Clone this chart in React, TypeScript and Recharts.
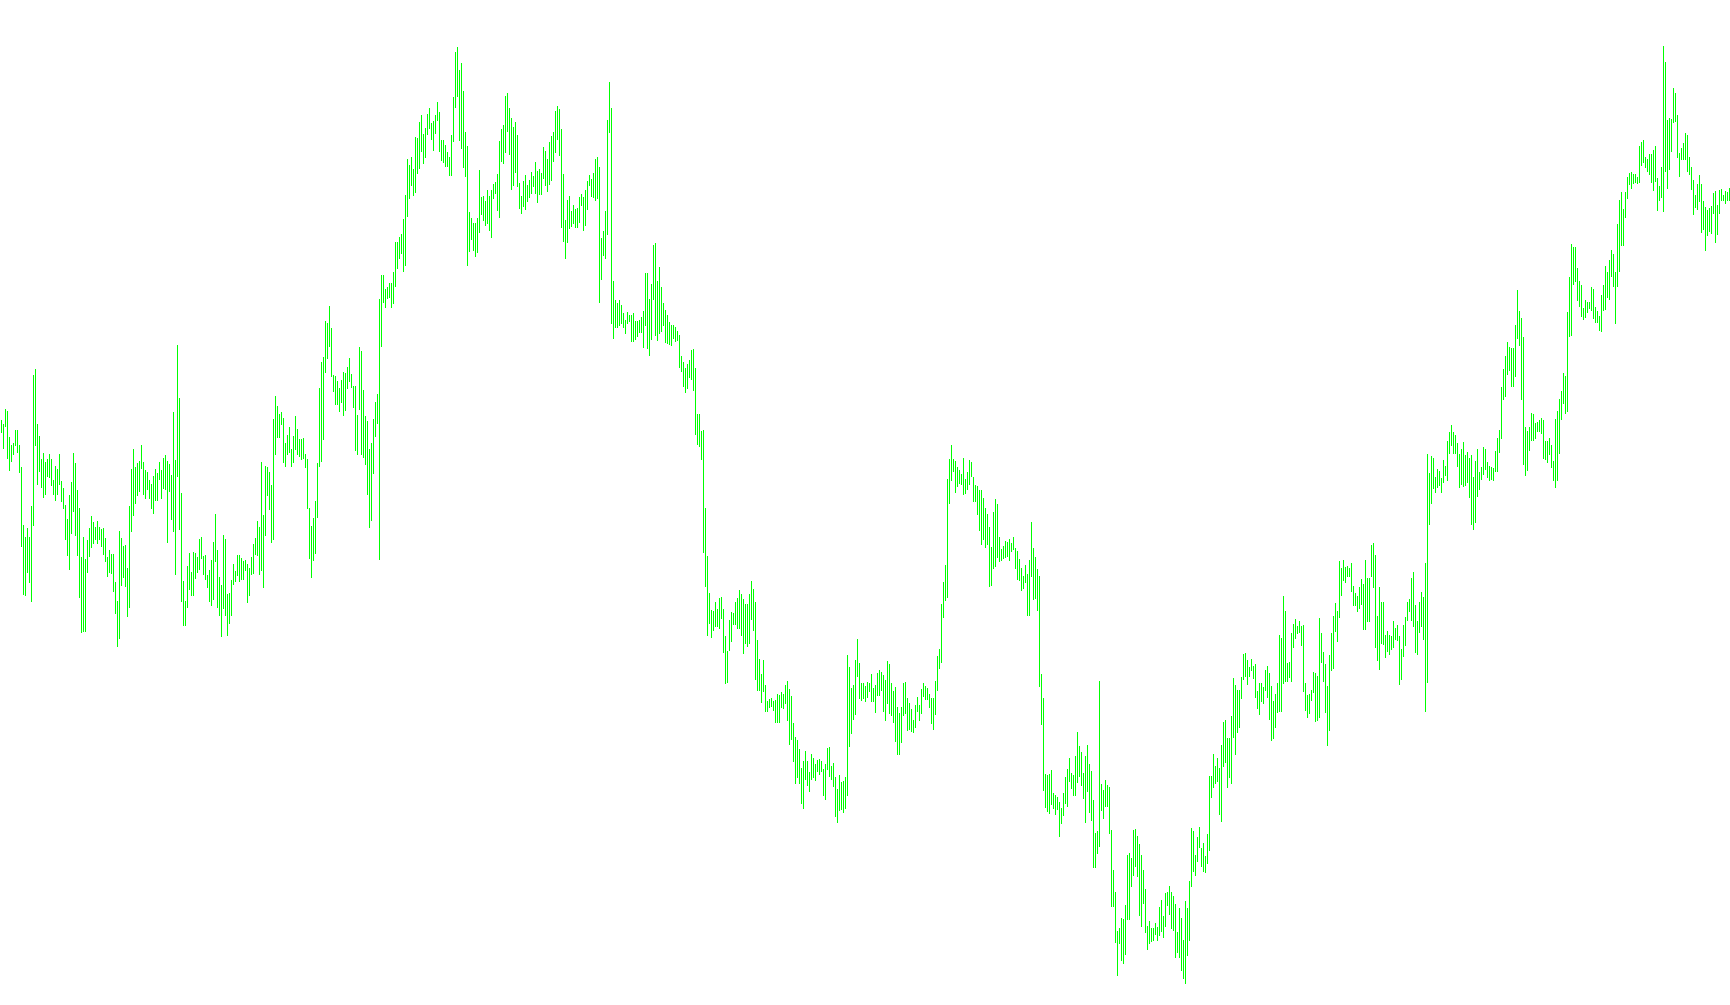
import { BarChart, Bar, XAxis, YAxis } from "recharts";

// bar highs / lows, left to right
const highs = [
  580, 576, 591, 589, 563, 555, 557, 570, 570, 555, 533, 475, 463, 472, 463, 494, 625, 631, 576, 564,
  541, 547, 538, 541, 546, 541, 520, 534, 531, 546, 519, 512, 495, 481, 505, 518, 547, 537, 510, 492,
  443, 463, 441, 460, 472, 484, 478, 473, 479, 473, 471, 472, 462, 443, 450, 446, 446, 418, 399, 469,
  462, 454, 455, 432, 494, 531, 551, 533, 537, 539, 555, 538, 530, 528, 520, 516, 524, 531, 527, 538,
  530, 542, 545, 539, 536, 525, 588, 540, 655, 602, 507, 419, 399, 434, 447, 428, 448, 447, 443, 461,
  463, 444, 445, 425, 430, 440, 458, 486, 450, 423, 415, 465, 461, 406, 407, 420, 436, 429, 445, 445,
  442, 439, 440, 436, 432, 443, 456, 462, 479, 473, 538, 485, 534, 533, 528, 515, 581, 604, 594, 586,
  588, 582, 557, 565, 573, 551, 564, 584, 571, 561, 561, 562, 546, 541, 492, 474, 482, 499, 537, 612,
  638, 643, 679, 677, 694, 672, 625, 624, 619, 612, 620, 628, 627, 633, 642, 626, 614, 614, 585, 653,
  649, 610, 584, 579, 551, 557, 581, 598, 606, 701,
  725, 725, 711, 713, 717, 717, 728, 758, 758, 763, 766, 781, 805, 841, 835, 843, 831, 863, 862, 878,
  885, 866, 872, 886, 892, 877, 879, 885, 898, 888, 860, 860, 855, 848, 843, 865, 903, 948, 953, 930,
  937, 909, 868, 854, 788, 782, 777, 777, 782, 830, 803, 804, 799, 810, 804, 810, 816, 818, 826, 859,
  871, 875, 904, 907, 892, 882, 873, 878, 865, 817, 804, 819, 825, 815, 820, 828, 824, 838, 829, 831,
  827, 853, 849, 841, 858, 864, 868, 889, 894, 891, 871, 826, 780, 800, 804, 789, 795, 791, 792, 803,
  806, 803, 810, 819, 825, 821, 827, 841, 843, 833, 762, 769, 789, 880, 918, 892, 719, 700, 697, 700,
  695, 687, 680, 688, 685, 685, 687, 679, 679, 680, 683, 689, 727, 727, 701, 716, 755, 757, 719, 733,
  713, 697, 690, 685, 678, 675, 675, 673, 669, 665, 644, 638, 632, 636, 640, 650, 651, 632, 586, 586,
  569, 570, 492, 444, 407, 390, 389, 398, 391, 402, 403, 391, 364, 349, 380, 388, 387, 398, 402, 410,
  406, 401, 396, 396, 406, 419, 411, 398, 360, 341,
  326, 340, 315, 299, 301, 302, 299, 300, 306, 305, 308, 306, 315, 319, 311, 304, 277, 263, 260, 251,
  232, 239, 249, 239, 228, 246, 242, 236, 240, 241, 239, 231, 236, 252, 253, 234, 237, 223, 211, 225,
  218, 219, 223, 345, 333, 312, 315, 340, 361, 337, 317, 317, 314, 318, 317, 326, 312, 315, 327, 330,
  328, 325, 320, 339, 336, 317, 309, 313, 293, 287, 293, 317, 318, 302, 297, 291, 280, 295, 303, 295,
  311, 317, 314, 312, 306, 302, 302, 319, 344, 351, 396, 418, 435, 521, 541, 555, 541, 539, 533, 530,
  526, 542, 521, 528, 540, 538, 523, 515, 514, 510, 510, 502, 492, 486, 473, 453, 488, 501, 496, 463,
  451, 454, 459, 458, 461, 457, 463, 452, 449, 441, 432, 424, 435, 426, 440, 478, 452, 443, 431, 424,
  326, 302, 226, 225, 226, 230, 207, 205, 203, 198, 192, 207, 223, 231, 242, 227, 225, 244, 268, 254,
  248, 227, 244, 255, 236, 229, 200, 167, 169, 319, 216, 210, 220, 215, 213, 170, 130, 108, 69, 72,
  82, 81, 95, 145, 147, 142, 170, 171, 164, 156, 145, 130, 111, 74, 79,
  72, 72, 77, 73, 93, 100, 84, 107, 108, 114, 108, 104, 96, 68, 92, 82, 60, 99, 92, 119,
  172, 169, 145, 163, 173, 152, 157, 144, 166, 224, 224, 246, 234, 242, 232, 255, 278, 280, 262, 262,
  284, 322, 315, 310, 310, 323, 346, 347, 340, 333, 341, 334, 336, 309, 317, 317, 313, 330, 334, 327,
  314, 299, 306, 317, 365, 362, 404, 389, 337, 338, 367, 376, 381, 374, 379, 374, 375, 317, 305, 306,
  310, 328, 327, 324, 382, 367, 348, 336, 314, 345, 367, 384, 397, 389, 439,
  432, 440, 433, 434, 432, 437, 414, 407, 404, 413, 421, 416, 440, 422, 422, 455, 457, 445, 384, 413,
  398, 398, 365, 369, 365, 364, 379, 372, 375, 364, 351, 375, 383, 398, 401, 422, 428, 395, 379, 398,
  408, 403, 437, 546, 527, 544, 542, 523, 531, 529, 522, 540, 534, 559, 568, 575, 568, 565, 557, 546,
  551, 558, 545, 548, 542, 545, 523, 539, 551, 528, 533, 553, 551, 538, 534, 533, 532, 549, 562, 570,
  613, 631, 644, 658, 653, 652, 652, 675, 710, 689, 682, 663, 573, 569, 573,
  587, 586, 577, 578, 580, 582, 580, 559, 559, 562, 555, 539, 581, 589, 601, 609, 627, 624, 688, 723,
  756, 753, 753, 732, 719, 715, 692, 700, 698, 698, 713, 711, 693, 689, 684, 705, 715, 734, 728, 740,
  750, 746, 728, 776, 800, 808, 791, 808, 823, 827, 828, 826, 826, 823, 854, 858, 860, 843, 841, 846,
  846, 850, 854, 822, 814, 833, 954, 938, 880, 882, 881, 912, 907, 885, 847, 852, 857, 867, 865, 843,
  833, 820, 805, 816, 825, 816, 799, 793, 790, 792, 794, 807, 809, 795, 810, 811, 805, 809, 808, 812,
];

const lows = [
  567, 551, 573, 541, 529, 538, 545, 554, 547, 527, 453, 405, 404, 427, 417, 398, 474, 554, 515, 528,
  512, 502, 505, 523, 522, 514, 505, 499, 505, 515, 498, 491, 460, 444, 430, 466, 488, 464, 444, 402,
  367, 368, 368, 427, 443, 452, 456, 460, 456, 460, 453, 445, 438, 423, 427, 426, 408, 386, 353, 361,
  414, 422, 413, 383, 392, 468, 484, 496, 504, 508, 531, 505, 501, 510, 501, 491, 486, 499, 499, 520,
  501, 511, 510, 457, 508, 480, 468, 425, 523, 470, 398, 374, 374, 392, 410, 404, 404, 421, 427, 430,
  441, 425, 420, 412, 398, 394, 400, 438, 392, 384, 363, 391, 384, 364, 376, 384, 415, 418, 424, 418,
  420, 420, 429, 397, 404, 425, 426, 445, 444, 425, 429, 412, 464, 504, 490, 457, 460, 545, 562, 562,
  575, 537, 533, 545, 547, 533, 537, 550, 545, 543, 540, 541, 532, 491, 441, 422, 439, 446, 482, 533,
  538, 560, 627, 641, 653, 623, 608, 595, 595, 588, 597, 584, 589, 611, 618, 612, 592, 549, 545, 590,
  545, 542, 535, 505, 472, 479, 526, 563, 576, 440,
  653, 697, 692, 701, 702, 692, 696, 713, 731, 741, 746, 728, 734, 783, 801, 814, 804, 807, 826, 831,
  848, 836, 842, 865, 871, 860, 849, 866, 879, 848, 839, 837, 833, 833, 824, 824, 858, 892, 903, 859,
  851, 832, 823, 734, 748, 760, 749, 743, 747, 767, 785, 779, 774, 776, 769, 762, 801, 806, 789, 782,
  838, 836, 847, 868, 845, 810, 814, 827, 813, 791, 786, 793, 790, 798, 802, 806, 813, 806, 797, 805,
  805, 821, 814, 808, 815, 819, 838, 847, 860, 844, 772, 758, 741, 757, 771, 773, 776, 772, 772, 777,
  794, 769, 774, 790, 814, 803, 802, 799, 801, 697, 720, 744, 741, 765, 867, 676, 661, 672, 672, 674,
  676, 672, 666, 676, 678, 658, 658, 660, 663, 667, 667, 652, 674, 651, 644, 660, 700, 664, 659, 666,
  668, 674, 657, 656, 655, 654, 661, 658, 659, 632, 628, 613, 607, 611, 622, 620, 609, 565, 555, 553,
  540, 447, 413, 364, 376, 362, 369, 373, 373, 371, 381, 347, 316, 317, 349, 358, 375, 375, 371, 371,
  364, 346, 356, 353, 356, 380, 369, 320, 309, 309,
  297, 308, 288, 288, 292, 293, 289, 277, 277, 277, 292, 291, 296, 279, 255, 260, 238, 216, 222, 216,
  196, 191, 220, 214, 208, 220, 222, 219, 228, 225, 228, 204, 200, 230, 223, 220, 213, 183, 177, 189,
  190, 187, 191, 204, 253, 266, 280, 285, 323, 301, 299, 301, 298, 302, 308, 298, 298, 287, 304, 304,
  309, 288, 279, 296, 286, 284, 277, 258, 245, 245, 257, 284, 286, 269, 270, 268, 267, 272, 288, 279,
  286, 303, 300, 300, 292, 276, 270, 285, 309, 331, 337, 382, 399, 402, 496, 519, 528, 507, 513, 516,
  515, 505, 506, 510, 515, 523, 498, 498, 485, 469, 455, 460, 452, 455, 413, 414, 431, 433, 442, 438,
  439, 441, 442, 443, 439, 448, 450, 431, 420, 419, 409, 411, 417, 384, 384, 423, 400, 401, 389, 313,
  275, 209, 192, 188, 186, 195, 191, 185, 190, 163, 176, 184, 196, 193, 218, 211, 204, 204, 217, 223,
  214, 201, 177, 208, 187, 179, 132, 132, 146, 153, 189, 181, 193, 193, 166, 93, 93, 57, 24, 56,
  39, 36, 45, 80, 80, 113, 124, 133, 123, 84, 73, 96, 67, 50, 56,
  58, 59, 65, 59, 64, 68, 62, 73, 94, 85, 71, 69, 42, 47, 42, 29, 21, 16, 44, 59,
  113, 128, 124, 138, 152, 133, 128, 127, 136, 149, 202, 212, 216, 218, 185, 178, 233, 237, 212, 222,
  216, 262, 245, 267, 272, 301, 320, 323, 315, 323, 329, 321, 302, 291, 285, 298, 296, 309, 302, 280,
  259, 261, 272, 287, 288, 288, 316, 318, 318, 322, 318, 352, 361, 366, 367, 354, 308, 289, 282, 286,
  299, 307, 278, 279, 282, 337, 318, 287, 254, 269, 329, 331, 368, 358, 382,
  404, 419, 417, 423, 423, 408, 394, 394, 388, 391, 395, 370, 370, 378, 378, 423, 412, 352, 339, 330,
  356, 355, 342, 348, 345, 350, 352, 360, 359, 315, 320, 343, 354, 379, 388, 379, 373, 347, 345, 367,
  373, 360, 288, 317, 475, 496, 511, 507, 512, 514, 507, 517, 524, 519, 546, 554, 546, 546, 533, 512,
  515, 513, 514, 517, 502, 475, 470, 477, 503, 510, 520, 525, 530, 522, 519, 520, 519, 528, 528, 547,
  561, 600, 603, 625, 629, 613, 613, 623, 661, 654, 600, 535, 524, 529, 549,
  559, 559, 561, 568, 568, 566, 541, 540, 537, 545, 532, 519, 512, 519, 546, 580, 596, 586, 588, 663,
  664, 715, 718, 699, 693, 683, 680, 682, 687, 691, 689, 681, 677, 677, 669, 668, 689, 690, 702, 700,
  723, 713, 676, 713, 728, 754, 754, 782, 801, 815, 811, 816, 817, 816, 817, 834, 837, 832, 828, 825,
  817, 809, 818, 789, 799, 802, 788, 828, 811, 830, 848, 877, 878, 842, 823, 840, 840, 840, 828, 825,
  810, 785, 792, 790, 798, 767, 770, 749, 764, 768, 766, 786, 757, 765, 786, 799, 799, 796, 799, 799,
];

const data = highs.map((h, i) => ({ i, range: [lows[i], h] }));

const BarLine = (props: any) => {
  const { x, y, width, height } = props;
  if (x == null || y == null) return null;
  return (
    <rect
      x={Math.floor(x + width / 2)}
      y={Math.round(y)}
      width={1}
      height={Math.max(1, Math.round(height))}
      fill="#00ff00"
      shapeRendering="crispEdges"
    />
  );
};

export default function App() {
  return (
    <div style={{ position: "absolute", left: 0, top: 0, background: "#fff" }}>
      <BarChart width={1730} height={1005} data={data} margin={{ top: 0, right: 0, bottom: 0, left: 0 }}>
        <XAxis dataKey="i" hide />
        <YAxis hide domain={[-5, 1000]} />
        <Bar dataKey="range" barSize={1} shape={BarLine} isAnimationActive={false} />
      </BarChart>
    </div>
  );
}
